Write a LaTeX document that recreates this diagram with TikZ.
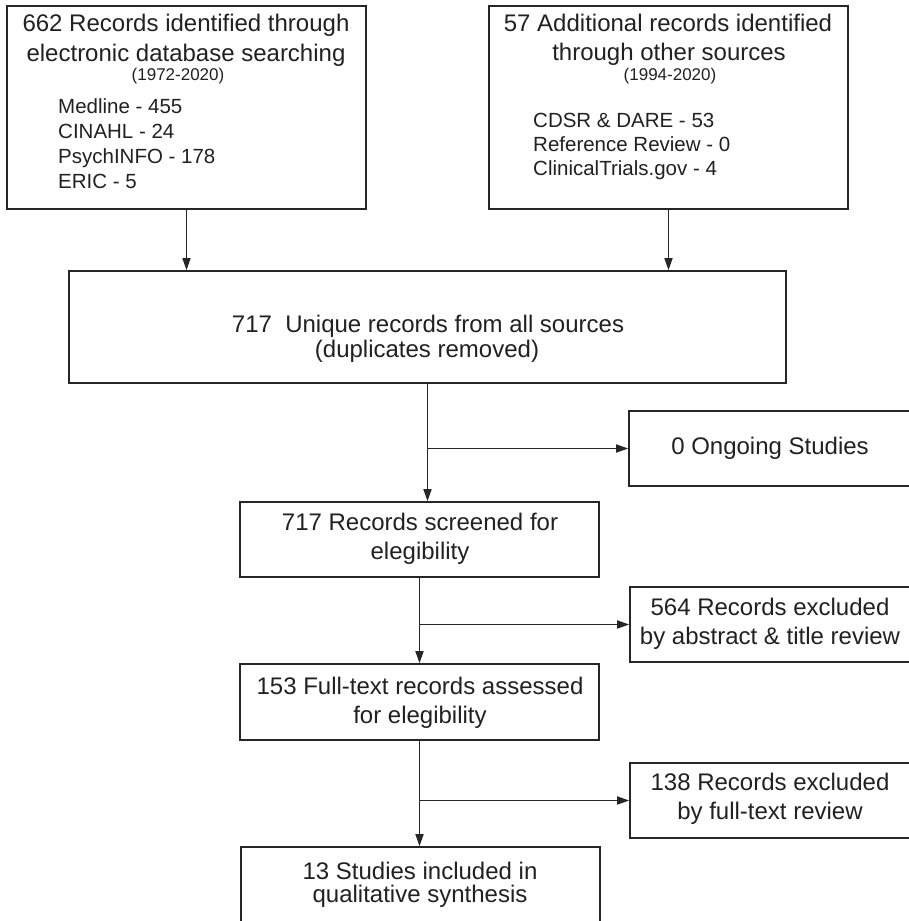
\documentclass[tikz,border=0pt]{standalone}
\usepackage{fontspec}
\setmainfont{Liberation Sans}
\usetikzlibrary{arrows.meta}
\begin{document}
\begin{tikzpicture}[x=1pt,y=-1pt,
  box/.style={draw=black!85, line width=1.6pt, inner sep=0pt, rectangle},
  ttl/.style={font=\fontsize{24}{29}\selectfont, text=black!87, inner sep=0pt, anchor=base},
  lst/.style={font=\fontsize{20.5}{25}\selectfont, text=black!87, inner sep=0pt, anchor=base west},
  yrs/.style={font=\fontsize{17}{20}\selectfont, text=black!87, inner sep=0pt, anchor=base},
  arr/.style={draw=black!85, line width=1.6pt, -{Triangle[length=12pt,width=8pt]}}]
\useasboundingbox (0,0) rectangle (909,921);
\clip (0,0) rectangle (909,921);
\fill[white] (0,0) rectangle (909,921);

% boxes
\node[box, minimum width=359pt, minimum height=203pt] (b1) at (186.5,107.5) {};
\node[box, minimum width=359pt, minimum height=203pt] (b2) at (668.5,107.5) {};
\node[box, minimum width=717pt, minimum height=112pt] (big) at (427.5,327) {};
\node[box, minimum width=286pt, minimum height=75pt] (ongoing) at (772,448.5) {};
\node[box, minimum width=359pt, minimum height=75pt] (screen) at (419.5,539.5) {};
\node[box, minimum width=285pt, minimum height=75pt] (ex1) at (772.5,624.5) {};
\node[box, minimum width=359pt, minimum height=76pt] (full) at (419.5,702) {};
\node[box, minimum width=285pt, minimum height=75pt] (ex2) at (772.5,800.5) {};
\node[box, minimum width=359pt, minimum height=83pt] (final) at (420.5,888.5) {};

% texts box 1
\node[ttl] (b1a) at (186,31) {662 Records identified through};
\node[ttl] (b1b) at (186,61) {electronic database searching};
\node[yrs] (b1c) at (178,80) {(1972-2020)};
\node[lst] (b1d) at (58,113) {Medline - 455};
\node[lst] (b1e) at (58,138) {CINAHL - 24};
\node[lst] (b1f) at (58,163) {PsychINFO - 178};
\node[lst] (b1g) at (58,188) {ERIC - 5};

% texts box 2
\node[ttl] (b2a) at (668,31) {57 Additional records identified};
\node[ttl] (b2b) at (669,60) {through other sources};
\node[yrs] (b2c) at (670,80) {(1994-2020)};
\node[lst] (b2d) at (533,127) {CDSR \& DARE - 53};
\node[lst] (b2e) at (533,151) {Reference Review - 0};
\node[lst] (b2f) at (533,175) {ClinicalTrials.gov - 4};

% other texts
\node[ttl] (bga) at (428,332) {717\ \ Unique records from all sources};
\node[ttl] (bgb) at (427,357) {(duplicates removed)};
\node[ttl] (oga) at (770,454) {0 Ongoing Studies};
\node[ttl] (sca) at (420,530) {717 Records screened for};
\node[ttl] (scb) at (420,559) {elegibility};
\node[ttl] (e1a) at (770,615) {564 Records excluded};
\node[ttl] (e1b) at (770,644) {by abstract \& title review};
\node[ttl] (fta) at (420,694) {153 Full-text records assessed};
\node[ttl] (ftb) at (420,723) {for elegibility};
\node[ttl] (e2a) at (770,790) {138 Records excluded};
\node[ttl] (e2b) at (770,819) {by full-text review};
\node[ttl] (fna) at (420,879) {13 Studies included in};
\node[ttl] (fnb) at (420,902.5) {qualitative synthesis};

% connectors
\draw[arr] (b1.south) -- (b1.south |- big.north);
\draw[arr] (b2.south) -- (b2.south |- big.north);
\draw[arr] (big.south) -- (big.south |- screen.north);
\coordinate (j1) at (big.south |- ongoing.west);
\draw[arr] (j1) -- (ongoing.west);
\draw[arr] (screen.south) -- (screen.south |- full.north);
\coordinate (j2) at (screen.south |- ex1.west);
\draw[arr] (j2) -- (ex1.west);
\draw[arr] (full.south) -- (full.south |- final.north);
\coordinate (j3) at (full.south |- ex2.west);
\draw[arr] (j3) -- (ex2.west);
\end{tikzpicture}
\end{document}
